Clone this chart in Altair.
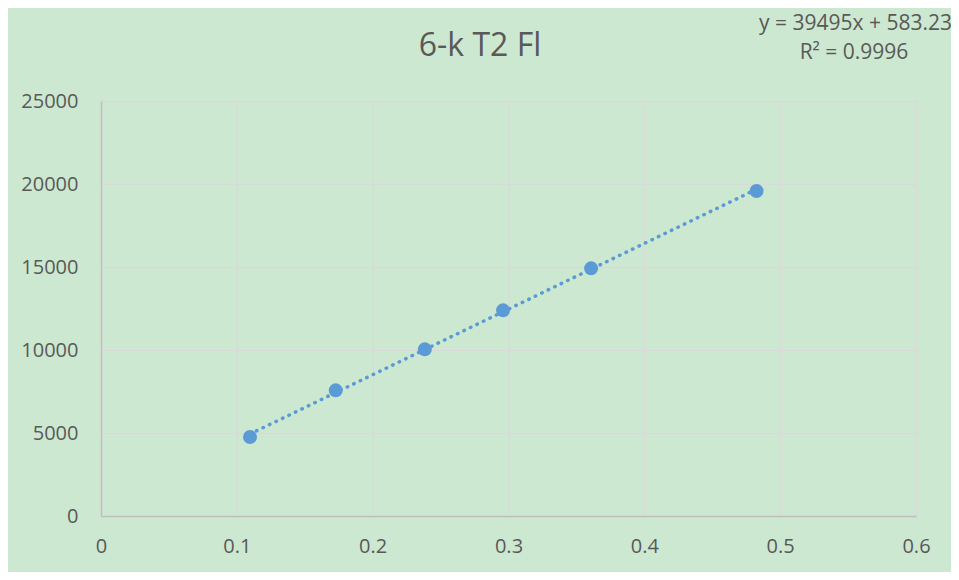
import altair as alt
import pandas as pd

x_vals = [0.1097, 0.1728, 0.2384, 0.2960, 0.3608, 0.4826]
y_vals = [4760, 7570, 10040, 12390, 14920, 19580]
title_text = "6-k T2 Fl"
eq_text = "y = 39495x + 583.23"
r2_text = "R² = 0.9996"

df = pd.DataFrame({"x": x_vals, "y": y_vals})

FONT = "Open Sans"
TXT = "#595959"
BLUE = "#5b9bd5"

xs = alt.Scale(domain=[0, 0.6], nice=False, zero=True)
ys = alt.Scale(domain=[0, 25000], nice=False)

xaxis = alt.Axis(values=[0, 0.1, 0.2, 0.3, 0.4, 0.5, 0.6], title=None, ticks=False,
                 domainColor="#bfbfbf", domainWidth=1.5, gridColor="#d9d9d9", gridWidth=1.5,
                 labelColor=TXT, labelFont=FONT, labelFontSize=20, labelPadding=20,
                 labelFlush=False, format="~g")
yaxis = alt.Axis(values=[0, 5000, 10000, 15000, 20000, 25000], title=None, ticks=False,
                 domainColor="#bfbfbf", domainWidth=1.5, gridColor="#d9d9d9", gridWidth=1.5,
                 labelColor=TXT, labelFont=FONT, labelFontSize=20, labelPadding=23, format="d")

base = alt.Chart(df)

trend = base.transform_regression("x", "y", method="linear").mark_line(
    color=BLUE, strokeWidth=3.5, strokeDash=[0.5, 6.7], strokeCap="round"
).encode(x=alt.X("x:Q", scale=xs, axis=xaxis), y=alt.Y("y:Q", scale=ys, axis=yaxis))

pts = base.mark_circle(size=195, opacity=1, color=BLUE).encode(
    x=alt.X("x:Q", scale=xs), y=alt.Y("y:Q", scale=ys)
)

title = alt.Chart(pd.DataFrame({"t": [title_text]})).mark_text(
    font=FONT, fontSize=32, color=TXT, align="center", baseline="middle"
).encode(text="t:N", x=alt.value(379), y=alt.value(-55))
eq = alt.Chart(pd.DataFrame({"t": [eq_text]})).mark_text(
    font=FONT, fontSize=21, color=TXT, align="right", baseline="middle"
).encode(text="t:N", x=alt.value(851), y=alt.value(-77))
r2 = alt.Chart(pd.DataFrame({"t": [r2_text]})).mark_text(
    font=FONT, fontSize=21, color=TXT, align="center", baseline="middle"
).encode(text="t:N", x=alt.value(753), y=alt.value(-48))

chart = alt.layer(trend, pts, title, eq, r2).properties(
    width=815, height=415,
    autosize=alt.AutoSizeParams(type="none"),
    padding={"left": 93, "top": 93, "right": 35, "bottom": 56},
    background="#cde8d0",
).configure_view(stroke=None)

chart.save("out.html", embed_options={"renderer": "svg", "actions": False})
